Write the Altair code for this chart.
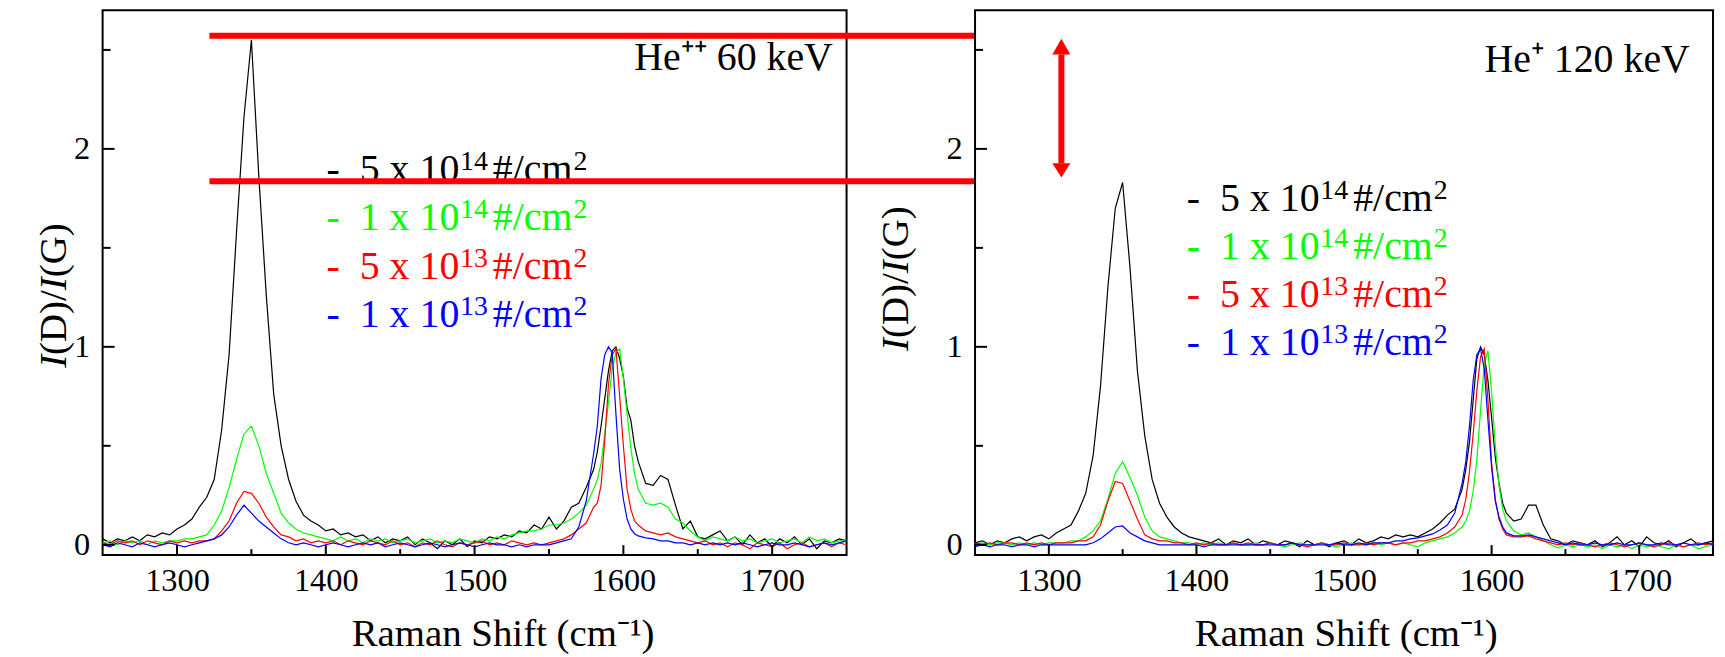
import altair as alt
import pandas as pd

FONT = "Liberation Serif"

# ---------------- data ----------------
X_LO = list(range(1250, 1580, 5))
X_G = [1580, 1582.5, 1585, 1587.5, 1590, 1592.5, 1595, 1597.5, 1600, 1602.5, 1605, 1607.5, 1610]
X_HI = list(range(1615, 1755, 5))
RAMAN = X_LO + X_G + X_HI

# left panel: He++ 60 keV
L_BLACK = [0.03, 0.01, 0.03, 0.02, 0.04, 0.02, 0.05, 0.04, 0.06, 0.05,
           0.08, 0.10, 0.13, 0.19, 0.24, 0.33, 0.58, 0.96, 1.58, 2.16,
           2.55, 1.86, 1.26, 0.76, 0.50, 0.33, 0.22, 0.15, 0.12, 0.10,
           0.07, 0.08, 0.05, 0.06, 0.04, 0.05, 0.02, 0.04, 0.01, 0.03,
           0.02, 0.04, 0.00, 0.03, 0.01, -0.02, 0.02, 0.00, 0.03, -0.01,
           0.02, 0.01, 0.04, 0.03, 0.05, 0.04, 0.07, 0.06, 0.10, 0.08,
           0.14, 0.08, 0.12, 0.19, 0.21, 0.29,
           0.38, 0.47, 0.60, 0.74, 0.88, 0.98, 1.00, 0.94, 0.85, 0.69, 0.63, 0.50, 0.42,
           0.31, 0.30, 0.35, 0.33, 0.20, 0.08, 0.12, 0.04, 0.03, 0.05,
           0.07, 0.02, 0.04, 0.00, 0.05, 0.01, 0.03, -0.01, 0.03, 0.01,
           0.04, 0.00, 0.03, -0.02, 0.02, 0.01, 0.03, 0.02]
L_GREEN = [0.01, 0.02, 0.00, 0.02, 0.01, 0.02, 0.00, 0.02, 0.01, 0.02,
           0.02, 0.03, 0.03, 0.04, 0.05, 0.10, 0.17, 0.29, 0.43, 0.56,
           0.60, 0.50, 0.36, 0.26, 0.16, 0.11, 0.08, 0.06, 0.05, 0.04,
           0.03, 0.02, 0.04, 0.02, 0.03, 0.01, 0.03, 0.02, 0.03, 0.01,
           0.02, 0.03, 0.01, 0.02, 0.03, 0.01, 0.02, 0.01, 0.03, 0.02,
           0.01, 0.03, 0.02, 0.04, 0.03, 0.05, 0.06, 0.07, 0.07, 0.08,
           0.10, 0.10, 0.11, 0.13, 0.16, 0.20,
           0.28, 0.33, 0.41, 0.56, 0.72, 0.89, 0.97, 0.99, 0.84, 0.66, 0.49, 0.36, 0.28,
           0.21, 0.20, 0.21, 0.19, 0.13, 0.11, 0.07, 0.04, 0.02, 0.04,
           0.03, 0.02, 0.04, 0.02, 0.03, 0.01, 0.02, 0.03, 0.01, 0.02,
           0.03, 0.01, 0.04, 0.02, 0.03, 0.01, 0.02, 0.02]
L_RED = [0.01, 0.00, 0.02, 0.01, 0.02, 0.00, 0.02, 0.01, 0.00, 0.02,
         0.01, 0.02, 0.01, 0.02, 0.02, 0.03, 0.07, 0.12, 0.21, 0.27,
         0.26, 0.21, 0.14, 0.09, 0.05, 0.04, 0.02, 0.03, 0.01, 0.02,
         0.01, 0.02, 0.00, 0.02, 0.01, 0.00, 0.02, 0.01, 0.00, 0.02,
         0.00, 0.01, -0.01, 0.01, 0.00, 0.02, 0.00, -0.01, 0.01, 0.00,
         0.01, 0.02, 0.00, 0.01, 0.00, 0.02, 0.01, 0.00, 0.01, 0.00,
         0.01, 0.02, 0.03, 0.05, 0.08, 0.11,
         0.19, 0.21, 0.30, 0.53, 0.81, 0.96, 0.99, 0.75, 0.50, 0.28, 0.18, 0.12, 0.10,
         0.07, 0.06, 0.05, 0.06, 0.04, 0.03, 0.02, 0.01, 0.02, 0.00,
         0.01, -0.01, 0.01, 0.00, -0.02, 0.01, 0.00, -0.01, 0.01, -0.02,
         0.00, 0.01, -0.01, 0.00, 0.01, -0.01, 0.01, 0.00]
L_BLUE = [0.00, -0.01, 0.01, 0.00, -0.01, 0.01, 0.00, -0.01, 0.00, 0.01,
          0.00, -0.01, 0.00, 0.01, 0.02, 0.03, 0.05, 0.09, 0.15, 0.20,
          0.16, 0.12, 0.09, 0.06, 0.03, 0.01, 0.00, 0.01, 0.00, -0.01,
          0.00, 0.01, 0.00, -0.01, 0.00, 0.01, 0.00, 0.01, -0.01, 0.00,
          0.01, 0.00, -0.01, 0.00, 0.01, 0.00, -0.01, 0.00, 0.01, 0.00,
          -0.01, 0.00, 0.01, 0.00, 0.00, -0.01, 0.00, -0.01, 0.00, 0.00,
          0.00, 0.01, 0.02, 0.03, 0.09, 0.22,
          0.46, 0.60, 0.84, 0.96, 1.00, 0.97, 0.66, 0.38, 0.23, 0.13, 0.08, 0.056, 0.045,
          0.035, 0.03, 0.02, 0.02, 0.01, 0.01, 0.00, 0.01, 0.00, 0.01,
          0.00, 0.01, 0.00, 0.01, 0.00, -0.01, 0.00, 0.01, 0.00, 0.00,
          0.01, 0.00, -0.01, 0.00, 0.01, 0.00, 0.01, 0.02]

# right panel: He+ 120 keV
R_BLACK = [0.01, 0.02, 0.00, 0.02, 0.01, 0.03, 0.04, 0.02, 0.04, 0.05,
           0.03, 0.06, 0.08, 0.10, 0.17, 0.26, 0.45, 0.80, 1.30, 1.70,
           1.83, 1.40, 0.88, 0.55, 0.33, 0.21, 0.14, 0.09, 0.06, 0.04,
           0.03, 0.02, 0.01, 0.03, 0.00, 0.02, 0.01, 0.03, 0.00, 0.02,
           0.01, 0.00, 0.02, 0.01, -0.01, 0.02, 0.00, 0.01, -0.01, 0.01,
           0.02, 0.00, 0.03, 0.01, 0.02, 0.04, 0.03, 0.05, 0.04, 0.05,
           0.04, 0.06, 0.08, 0.11, 0.15, 0.18,
           0.28, 0.38, 0.52, 0.73, 0.94, 1.00, 0.96, 0.83, 0.64, 0.44, 0.31, 0.21, 0.16,
           0.12, 0.13, 0.20, 0.20, 0.10, 0.03, 0.02, 0.00, 0.02, 0.01,
           0.00, 0.02, -0.01, 0.01, 0.04, 0.00, 0.02, -0.01, 0.04, 0.01,
           0.00, 0.02, -0.01, 0.01, 0.03, 0.00, 0.01, 0.02]
R_GREEN = [0.00, 0.01, 0.00, 0.01, 0.01, 0.00, 0.01, 0.00, 0.01, 0.00,
           0.01, 0.01, 0.01, 0.02, 0.02, 0.04, 0.07, 0.12, 0.23, 0.36,
           0.42, 0.34, 0.25, 0.14, 0.07, 0.04, 0.03, 0.02, 0.01, 0.01,
           0.00, 0.01, 0.00, 0.01, 0.00, 0.01, 0.00, 0.00, 0.01, 0.00,
           0.01, 0.00, -0.01, 0.00, 0.01, 0.00, 0.00, 0.01, 0.00, -0.01,
           0.00, 0.01, 0.00, 0.00, 0.01, 0.00, 0.01, 0.00, 0.01, 0.00,
           -0.01, 0.01, 0.02, 0.03, 0.04, 0.06,
           0.09, 0.12, 0.17, 0.27, 0.43, 0.68, 0.91, 0.98, 0.77, 0.50, 0.30, 0.18, 0.12,
           0.07, 0.05, 0.06, 0.04, 0.02, 0.00, -0.015, 0.00, -0.01, 0.00,
           -0.01, 0.00, -0.02, 0.00, -0.01, 0.00, -0.02, 0.00, -0.01, 0.00,
           -0.01, -0.02, 0.00, -0.01, 0.00, -0.02, -0.01, 0.00]
R_RED = [0.01, 0.00, 0.01, 0.00, 0.01, 0.01, 0.00, 0.01, 0.00, 0.01,
         0.00, 0.01, 0.01, 0.01, 0.02, 0.02, 0.04, 0.10, 0.22, 0.32,
         0.31, 0.22, 0.13, 0.05, 0.03, 0.02, 0.02, 0.01, 0.01, 0.00,
         0.01, 0.00, 0.01, 0.00, 0.00, 0.01, 0.00, 0.01, 0.00, 0.00,
         0.01, 0.00, 0.00, 0.01, 0.00, -0.01, 0.00, 0.01, 0.00, 0.00,
         0.01, 0.00, 0.00, 0.01, 0.00, 0.01, 0.01, 0.00, 0.01, 0.01,
         0.02, 0.02, 0.03, 0.04, 0.06, 0.09,
         0.15, 0.23, 0.37, 0.56, 0.78, 0.95, 0.99, 0.73, 0.41, 0.23, 0.13, 0.08, 0.05,
         0.04, 0.04, 0.045, 0.03, 0.02, 0.01, 0.00, 0.01, 0.00, 0.01,
         0.00, -0.01, 0.00, 0.01, 0.00, -0.01, 0.00, 0.01, 0.00, -0.01,
         0.00, 0.01, 0.00, -0.01, 0.00, 0.01, 0.00, 0.01]
R_BLUE = [-0.01, 0.00, -0.01, 0.00, 0.00, -0.01, 0.00, 0.00, -0.01, 0.00,
          0.00, 0.00, 0.00, 0.00, 0.00, 0.00, 0.01, 0.03, 0.06, 0.09,
          0.095, 0.06, 0.04, 0.02, 0.01, 0.00, 0.00, 0.00, 0.00, 0.00,
          0.00, -0.01, 0.00, 0.00, 0.00, 0.00, 0.00, 0.00, 0.00, 0.00,
          0.00, 0.00, 0.00, 0.01, 0.00, 0.00, 0.00, 0.00, 0.00, 0.01,
          0.00, 0.00, 0.01, 0.00, 0.01, 0.01, 0.01, 0.02, 0.02, 0.03,
          0.035, 0.045, 0.055, 0.075, 0.10, 0.16,
          0.31, 0.42, 0.60, 0.83, 0.96, 0.99, 0.89, 0.63, 0.39, 0.22, 0.14, 0.09, 0.06,
          0.045, 0.045, 0.05, 0.04, 0.03, 0.02, 0.01, 0.00, 0.01, 0.00,
          0.00, 0.01, 0.00, 0.00, 0.01, 0.00, 0.00, 0.01, 0.00, 0.00,
          0.01, 0.00, 0.00, 0.01, 0.00, 0.00, 0.01, 0.00]

COLORS = ["#000000", "#00ff00", "#ff0000", "#0000ff"]
LEG_MAIN = ["-\u00a0\u00a05 x 10", "-\u00a0\u00a01 x 10", "-\u00a0\u00a05 x 10", "-\u00a0\u00a01 x 10"]
LEG_EXP = ["14", "14", "13", "13"]
LEG_UNIT = "#/cm"
LEG_UNIT_EXP = "2"

XMAJOR = [1300, 1400, 1500, 1600, 1700]
XMINOR = [1350, 1450, 1550, 1650]
YMAJOR = [0, 1, 2]
YMINOR = [0.5, 1.5, 2.5]

X_DOMAIN = [1250, 1750]
Y_DOMAIN = [-0.052, 2.7]

# annotation positions (data units)
LEFT_LEG_X = 1400.5
LEFT_LEG_Y = [1.835, 1.589, 1.342, 1.10]
RIGHT_LEG_X = 1393.5
RIGHT_LEG_Y = [1.687, 1.445, 1.202, 0.96]
RED_LEVELS = [2.571, 1.837]
RED_X = [1321.8, 1940]
ARROW_X = [1302.4, 1308.5, 1314.6]       # arrow head left / centre / right
ARROW_UP = [2.477, 2.556, 2.477]         # upper head base / tip / base
ARROW_DOWN = [1.927, 1.855, 1.927]       # lower head base / tip / base

H = 547
W_LEFT = 747
W_RIGHT = 741
GAP = 129

xs = alt.Scale(domain=X_DOMAIN, nice=False, zero=False)
ys = alt.Scale(domain=Y_DOMAIN, nice=False, zero=False)


def axes(xtitle_x):
    ax = alt.Axis(
        values=XMAJOR, format="d", ticks=False, tickSize=0, domain=False, grid=False,
        labelFont=FONT, labelFontSize=32.5, labelColor="black",
        labelPadding=36, labelBaseline="alphabetic", labelFlush=False,
        labelOverlap=False,
        title="Raman Shift (cm\u207b\u00b9)", titleFont=FONT, titleFontSize=39,
        titleFontWeight="normal", titleColor="black",
        titleX=xtitle_x, titleY=91, titleBaseline="alphabetic",
        titleAlign="center")
    ay = alt.Axis(
        values=YMAJOR, format="d", ticks=False, tickSize=0, domain=False, grid=False,
        labelFont=FONT, labelFontSize=32.5, labelColor="black",
        labelPadding=13, labelBaseline="middle", labelFlush=False,
        title=None)
    return ax, ay


def panel(series, W, leg_x, leg_y, label, lab_x, lab_y, title_x, title_s, xtitle_x, extra_fn):
    ax, ay = axes(xtitle_x)

    def X(f):
        return alt.X(f, scale=xs, axis=ax)

    def Y(f):
        return alt.Y(f, scale=ys, axis=ay)

    layers = []
    for vals, col in zip(series, COLORS):
        df = pd.DataFrame({"shift": RAMAN, "ratio": vals})
        layers.append(alt.Chart(df).mark_line(color=col, strokeWidth=1.2).encode(
            x=X("shift:Q"), y=Y("ratio:Q")))

    # inward ticks
    for vals, ln in ((XMAJOR, 10), (XMINOR, 6)):
        layers.append(alt.Chart(pd.DataFrame({"shift": vals})).mark_rule(
            color="black", strokeWidth=2).encode(
            x=X("shift:Q"), y=alt.value(H), y2=alt.value(H - ln)))
    for vals, ln in ((YMAJOR, 12), (YMINOR, 8)):
        layers.append(alt.Chart(pd.DataFrame({"ratio": vals})).mark_rule(
            color="black", strokeWidth=2).encode(
            y=Y("ratio:Q"), x=alt.value(0), x2=alt.value(ln)))

    # legend text, with raised exponents
    leg = pd.DataFrame({"shift": [leg_x] * 4, "ratio": leg_y,
                        "main": LEG_MAIN, "exp": LEG_EXP, "c": COLORS})
    base = alt.Chart(leg)
    enc = dict(x=X("shift:Q"), y=Y("ratio:Q"), color=alt.Color("c:N", scale=None))
    layers.append(base.mark_text(align="left", baseline="alphabetic", font=FONT,
                                 fontSize=40).encode(text="main:N", **enc))
    layers.append(base.mark_text(align="left", baseline="alphabetic", font=FONT,
                                 fontSize=28, dx=134, dy=-12).encode(text="exp:N", **enc))
    layers.append(base.mark_text(align="left", baseline="alphabetic", font=FONT,
                                 fontSize=40, dx=167).encode(text=alt.value(LEG_UNIT), **enc))
    layers.append(base.mark_text(align="left", baseline="alphabetic", font=FONT,
                                 fontSize=28, dx=248, dy=-12).encode(text=alt.value(LEG_UNIT_EXP), **enc))

    # panel label
    lab = pd.DataFrame({"shift": [lab_x], "ratio": [lab_y], "t": [label]})
    layers.append(alt.Chart(lab).mark_text(
        align="right", baseline="alphabetic", font=FONT, fontSize=40, color="black").encode(
        x=X("shift:Q"), y=Y("ratio:Q"), text="t:N"))

    # y title  I(D)/I(G) with italic I
    one = pd.DataFrame({"k": [0]})
    for txt, off, style in (("I", 0, "italic"), ("(D)/", 13, "normal"),
                            ("I", 78, "italic"), ("(G)", 91, "normal")):
        layers.append(alt.Chart(one).mark_text(
            angle=270, align="left", baseline="alphabetic", font=FONT, fontSize=39,
            fontStyle=style, color="black").encode(
            x=alt.value(title_x), y=alt.value(title_s - off), text=alt.value(txt)))

    layers.extend(extra_fn(X, Y))
    return alt.layer(*layers).properties(width=W, height=H)


def red_lines(X, Y):
    red_df = pd.DataFrame({"shift": [RED_X[0]] * 2, "x2": [RED_X[1]] * 2, "ratio": RED_LEVELS})
    return [alt.Chart(red_df).mark_rule(color="#ff0000", strokeWidth=6).encode(
        x=X("shift:Q"), x2="x2:Q", y=Y("ratio:Q"))]


def arrow(X, Y):
    shaft_df = pd.DataFrame({"shift": [ARROW_X[1]], "ratio": [ARROW_DOWN[0]], "y2": [ARROW_UP[0]]})
    shaft = alt.Chart(shaft_df).mark_rule(color="#ff0000", strokeWidth=6).encode(
        x=X("shift:Q"), y=Y("ratio:Q"), y2="y2:Q")
    heads = []
    for ys_ in (ARROW_UP, ARROW_DOWN):
        hd = pd.DataFrame({"shift": ARROW_X, "ratio": ys_, "base": [ys_[0]] * 3})
        heads.append(alt.Chart(hd).mark_area(color="#ff0000", opacity=1, interpolate="linear").encode(
            x=X("shift:Q"), y=Y("ratio:Q"), y2="base:Q"))
    return [shaft] + heads


left = panel([L_BLACK, L_GREEN, L_RED, L_BLUE], W_LEFT, LEFT_LEG_X, LEFT_LEG_Y,
             "He\u207a\u207a 60 keV", 1740.8, 2.398, -36.7, 359, 401.6, red_lines)
right = panel([R_BLACK, R_GREEN, R_RED, R_BLUE], W_RIGHT, RIGHT_LEG_X, RIGHT_LEG_Y,
              "He\u207a 120 keV", 1734.3, 2.386, -67.3, 342, 372.2, arrow)

chart = alt.hconcat(left, right, spacing=GAP, bounds="flush").properties(
    padding={"left": 26, "top": 0, "right": 0, "bottom": 0},
    background="white",
).configure_view(stroke="black", strokeWidth=2, fill="white")

chart.save("out.html", embed_options={"renderer": "svg", "actions": False})
